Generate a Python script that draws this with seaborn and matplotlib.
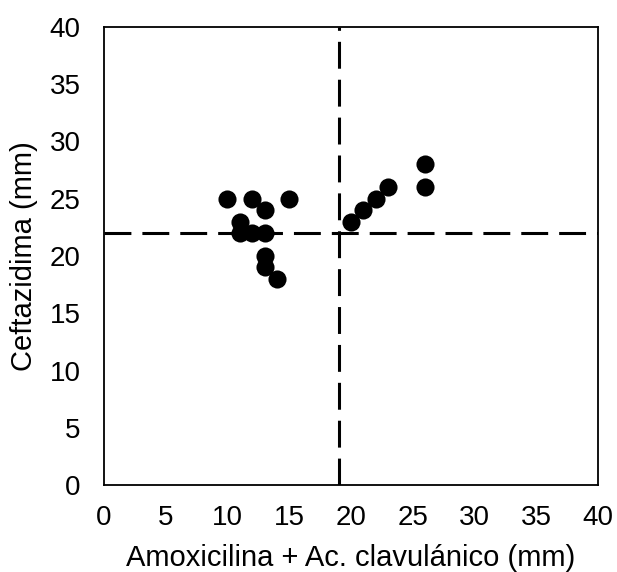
import matplotlib
matplotlib.use("Agg")
import matplotlib.pyplot as plt
import seaborn as sns
import pandas as pd

amox = [10, 12, 13, 15, 11, 11, 12, 13, 13, 13, 14, 20, 21, 22, 23, 26, 26]
ceft = [25, 25, 24, 25, 23, 22, 22, 22, 20, 19, 18, 23, 24, 25, 26, 28, 26]
cut_x = 19
cut_y = 22
ticks = [0, 5, 10, 15, 20, 25, 30, 35, 40]

sns.set_style("white")
plt.rcParams['font.family'] = ['Liberation Sans', 'DejaVu Sans']

df = pd.DataFrame({"x": amox, "y": ceft})
fig = plt.figure(figsize=(6.17, 5.72), dpi=100)
ax = fig.add_axes([0.1686, 0.152, 0.8004, 0.801])

ax.axvline(cut_x, color="black", lw=2.2, dashes=(8.8, 3.6), zorder=1)
ax.axhline(cut_y, color="black", lw=2.2, dashes=(8.8, 3.6), zorder=1)
sns.scatterplot(data=df, x="x", y="y", ax=ax, color="black", s=170,
                edgecolor="black", linewidth=0, zorder=3)

ax.set_xlim(0, 40)
ax.set_ylim(0, 40)
ax.set_xticks(ticks)
ax.set_yticks(ticks)
ax.tick_params(axis="x", labelsize=20, length=0, pad=14, colors="black")
ax.tick_params(axis="y", labelsize=20, length=0, pad=17, colors="black")
ax.set_xlabel("Amoxicilina + Ac. clavulánico (mm)", fontsize=21, labelpad=10,
              color="black")
ax.set_ylabel("Ceftazidima (mm)", fontsize=21, labelpad=8, color="black")
for s in ax.spines.values():
    s.set_color("black")
    s.set_linewidth(1.3)

fig.savefig("out.png", dpi=100)
